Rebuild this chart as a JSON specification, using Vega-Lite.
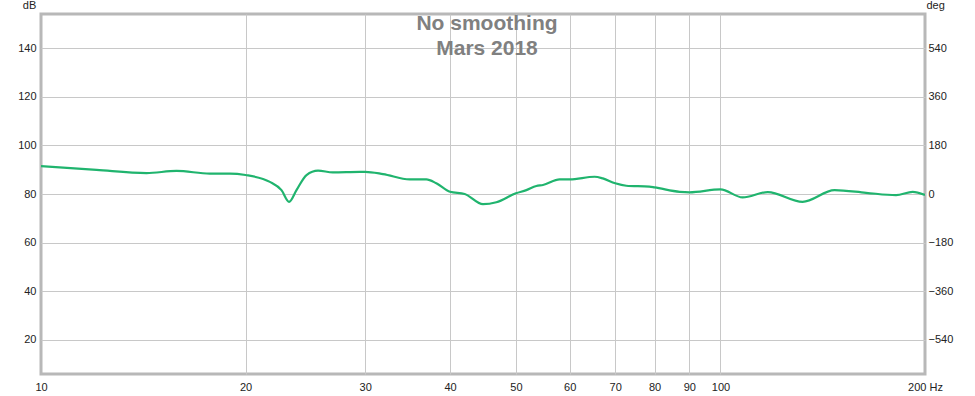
{
  "$schema": "https://vega.github.io/schema/vega-lite/v6.json",
  "width": 884,
  "height": 360,
  "autosize": {"type": "none"},
  "padding": {"left": 41, "top": 14, "right": 50, "bottom": 22},
  "background": "white",
  "title": {
    "text": ["No smoothing", "Mars 2018"],
    "font": "Liberation Sans",
    "fontSize": 21,
    "fontWeight": "bold",
    "color": "#808080",
    "lineHeight": 25,
    "anchor": "middle",
    "baseline": "alphabetic",
    "offset": 0,
    "dy": 77,
    "dx": 4
  },
  "config": {
    "view": {"stroke": "#b8b8b8", "strokeWidth": 3},
    "axis": {
      "labelFont": "Liberation Sans",
      "labelFontSize": 11,
      "labelColor": "#222222",
      "titleFont": "Liberation Sans",
      "titleFontSize": 11,
      "titleFontWeight": "normal",
      "titleColor": "#222222",
      "domain": false,
      "ticks": false,
      "gridColor": "#c8c8c8",
      "gridWidth": 1,
      "gridOpacity": 1
    }
  },
  "data": {
    "values": [
      {"f": 10, "db": 91.5},
      {"f": 12.07, "db": 89.9},
      {"f": 14.3, "db": 88.6},
      {"f": 15.83, "db": 89.5},
      {"f": 17.72, "db": 88.4},
      {"f": 18.97, "db": 88.4},
      {"f": 20, "db": 87.8},
      {"f": 21.72, "db": 85},
      {"f": 22.59, "db": 81.6},
      {"f": 23.18, "db": 76.8},
      {"f": 23.77, "db": 81.6},
      {"f": 24.59, "db": 87.8},
      {"f": 25.57, "db": 89.6},
      {"f": 26.88, "db": 88.9},
      {"f": 29.45, "db": 89.1},
      {"f": 30, "db": 89.1},
      {"f": 31.87, "db": 88.2},
      {"f": 34.88, "db": 86},
      {"f": 36.91, "db": 86},
      {"f": 38.18, "db": 84.4},
      {"f": 40, "db": 80.9},
      {"f": 42.03, "db": 80},
      {"f": 44.72, "db": 75.8},
      {"f": 46.79, "db": 76.6},
      {"f": 50, "db": 80.3},
      {"f": 51.8, "db": 81.6},
      {"f": 53.58, "db": 83.3},
      {"f": 54.8, "db": 83.7},
      {"f": 57.99, "db": 86},
      {"f": 60, "db": 86},
      {"f": 65.27, "db": 87.1},
      {"f": 67.13, "db": 86.4},
      {"f": 70, "db": 84.4},
      {"f": 72.67, "db": 83.4},
      {"f": 78.6, "db": 83},
      {"f": 80, "db": 82.7},
      {"f": 87.1, "db": 80.9},
      {"f": 90, "db": 80.7},
      {"f": 100, "db": 81.9},
      {"f": 107.8, "db": 78.6},
      {"f": 117.4, "db": 80.8},
      {"f": 132.1, "db": 76.8},
      {"f": 147.2, "db": 81.6},
      {"f": 163.8, "db": 80.5},
      {"f": 181.3, "db": 79.5},
      {"f": 191.8, "db": 80.9},
      {"f": 200, "db": 79.6}
    ]
  },
  "layer": [
    {
      "mark": {"type": "line", "interpolate": "monotone", "color": "#20b46e", "strokeWidth": 2.2, "clip": true},
      "encoding": {
        "x": {
          "field": "f", "type": "quantitative",
          "scale": {"type": "log", "domain": [10, 200], "nice": false},
          "axis": {
            "title": null,
            "values": [10, 20, 30, 40, 50, 60, 70, 80, 90, 100, 200],
            "labelExpr": "datum.value == 200 ? '200 Hz' : datum.label",
            "labelPadding": 7,
            "labelFlush": false,
            "labelOverlap": false,
            "gridOpacity": {"condition": {"test": "datum.value == 10 || datum.value == 200", "value": 0}, "value": 1}
          }
        },
        "y": {
          "field": "db", "type": "quantitative",
          "scale": {"domain": [6, 154], "nice": false, "zero": false},
          "axis": {
            "orient": "left",
            "title": "dB",
            "titleAngle": 0,
            "titleAlign": "center",
            "titleBaseline": "middle",
            "titleX": -12,
            "titleY": -9,
            "values": [20, 40, 60, 80, 100, 120, 140],
            "labelPadding": 5
          }
        }
      }
    },
    {
      "mark": {"type": "line", "interpolate": "monotone", "strokeOpacity": 0},
      "encoding": {
        "x": {"field": "f", "type": "quantitative"},
        "y": {
          "field": "db", "type": "quantitative",
          "axis": {
            "orient": "right",
            "title": "deg",
            "titleAngle": 0,
            "titleAlign": "left",
            "titleBaseline": "middle",
            "titleX": 1,
            "titleY": -9,
            "grid": false,
            "values": [20, 40, 60, 80, 100, 120, 140],
            "labelExpr": "format((datum.value - 80) * 9, 'd')",
            "labelPadding": 3
          }
        }
      }
    }
  ],
  "resolve": {"axis": {"y": "independent"}}
}
